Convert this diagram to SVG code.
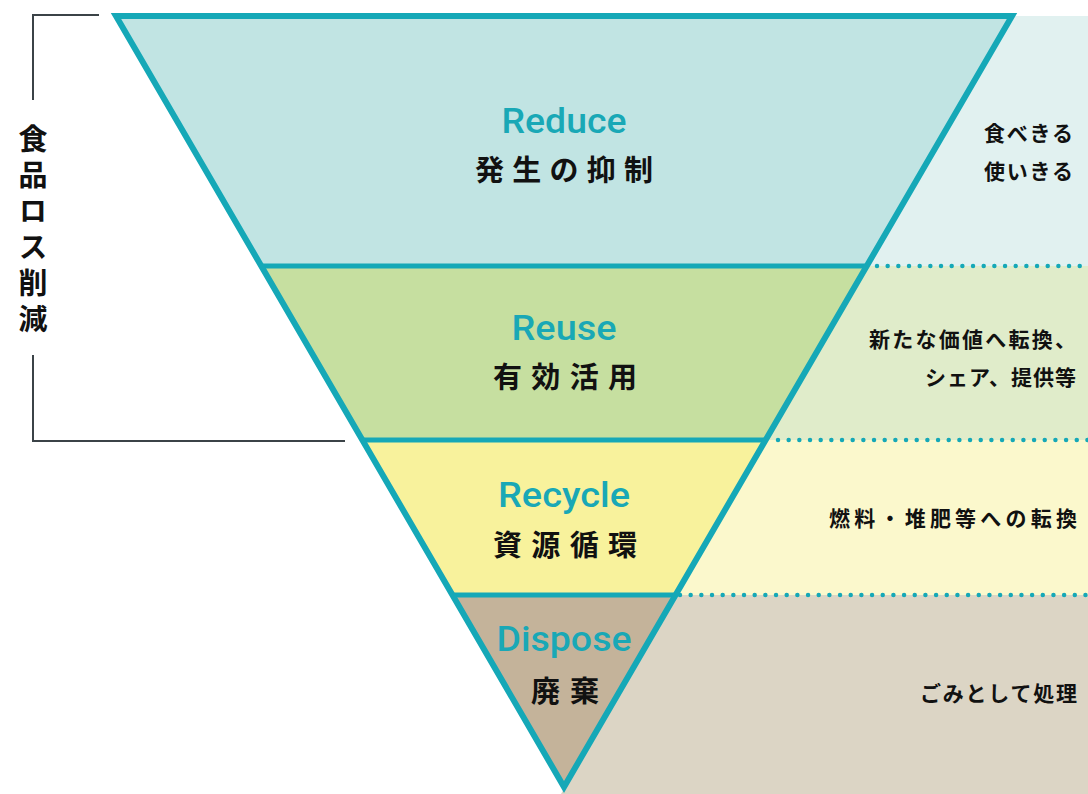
<svg xmlns="http://www.w3.org/2000/svg" width="1088" height="794" viewBox="0 0 1088 794">
<style>
.en{font-family:Roboto,"Liberation Sans",sans-serif;font-weight:500;font-size:35px;fill:#19a8b6;text-anchor:middle}
.jp{font-family:"Noto Sans CJK JP",sans-serif;font-weight:700;font-size:29px;fill:#111}
.rt{font-family:"Noto Sans CJK JP",sans-serif;font-weight:700;font-size:21px;fill:#111}
.div{stroke:#15a8b7;stroke-width:5}
.dots{stroke:#15a8b7;stroke-width:4.5;stroke-linecap:round;stroke-dasharray:0 10.67;fill:none}
.br{stroke:#3b4347;stroke-width:2;fill:none}
</style>
<rect width="1088" height="794" fill="#fff"/>
<g id="panels">
<polygon points="1012,16 1088,16 1088,266 867,266" fill="#e1f1f0"/>
<polygon points="867,266 1088,266 1088,440 766,440" fill="#e0ecca"/>
<polygon points="766,440 1088,440 1088,595 676,595" fill="#fbf8cc"/>
<polygon points="676,595 1088,595 1088,794 561,794" fill="#dcd5c5"/>
</g>
<g id="reduce">
<polygon points="116,16 1012,16 867,266 261,266" fill="#c1e4e3"/>
<text class="en" x="564" y="133" textLength="125" lengthAdjust="spacingAndGlyphs">Reduce</text>
<text class="jp" x="475" y="181" textLength="178">発生の抑制</text>
</g>
<g id="reuse">
<polygon points="261,266 867,266 766,440 362,440" fill="#c6dfa0"/>
<text class="en" x="564" y="340" textLength="105" lengthAdjust="spacingAndGlyphs">Reuse</text>
<text class="jp" x="493" y="388" textLength="144">有効活用</text>
</g>
<g id="recycle">
<polygon points="362,440 766,440 676,595 452,595" fill="#f8f29c"/>
<text class="en" x="564" y="507" textLength="132" lengthAdjust="spacingAndGlyphs">Recycle</text>
<text class="jp" x="493" y="556" textLength="144">資源循環</text>
</g>
<g id="dispose">
<polygon points="452,595 676,595 564,787" fill="#c4b39a"/>
<text class="en" x="564" y="651" textLength="135" lengthAdjust="spacingAndGlyphs">Dispose</text>
<text class="jp" x="531" y="702" textLength="68">廃棄</text>
</g>
<g id="connectors">
<line class="div" x1="261" y1="266" x2="867" y2="266"/>
<line class="div" x1="362" y1="440" x2="766" y2="440"/>
<line class="div" x1="452" y1="595" x2="676" y2="595"/>
<line class="dots" x1="877" y1="266" x2="1090" y2="266"/>
<line class="dots" x1="778" y1="440" x2="1090" y2="440"/>
<line class="dots" x1="680" y1="595" x2="1090" y2="595"/>
<polygon points="116,16 1012,16 564,787" fill="none" stroke="#15a8b7" stroke-width="6" stroke-linejoin="miter" stroke-miterlimit="10"/>
</g>
<g id="right-labels">
<text class="rt" x="984" y="141" textLength="89">食べきる</text>
<text class="rt" x="984" y="179" textLength="89">使いきる</text>
<text class="rt" x="869" y="347" textLength="207">新たな価値へ転換、</text>
<text class="rt" x="925" y="385" textLength="151">シェア、提供等</text>
<text class="rt" x="829" y="526" textLength="248">燃料・堆肥等への転換</text>
<text class="rt" x="920" y="701" textLength="157">ごみとして処理</text>
</g>
<g id="bracket">
<polyline class="br" points="99,15 33,15 33,100"/>
<polyline class="br" points="33,355 33,441 345,441"/>
<text x="33" y="124" writing-mode="tb" font-family="'Noto Sans CJK JP',sans-serif" font-weight="700" font-size="29" fill="#111" letter-spacing="7">食品ロス削減</text>
</g>
</svg>
